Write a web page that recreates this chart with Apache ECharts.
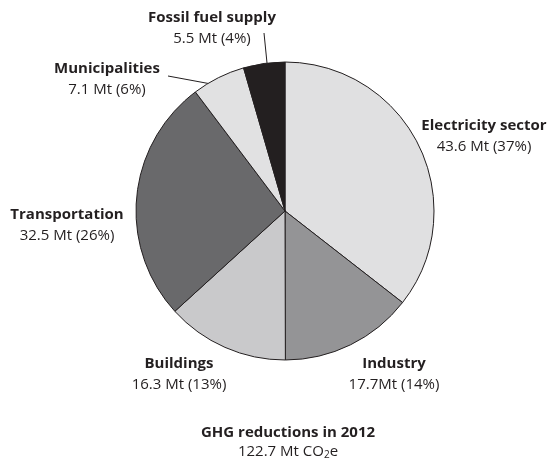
<!DOCTYPE html>
<html>
<head>
<meta charset="utf-8">
<script src="https://cdn.jsdelivr.net/npm/echarts@6/dist/echarts.min.js"></script>
<style>
  html, body { margin: 0; padding: 0; background: #ffffff; }
  #chart { width: 547px; height: 466px; }
</style>
</head>
<body>
<div id="chart"></div>
<script>
// GHG reductions by sector, 2012 (Mt CO2e), clockwise from 12 o'clock
const sectors = ['Electricity sector', 'Industry', 'Buildings', 'Transportation', 'Municipalities', 'Fossil fuel supply'];
const reductions = [43.6, 17.7, 16.3, 32.5, 7.1, 5.5];
const shares = ['37%', '14%', '13%', '26%', '6%', '4%'];
const valueTexts = ['43.6 Mt', '17.7Mt', '16.3 Mt', '32.5 Mt', '7.1 Mt', '5.5 Mt'];
const sliceColors = ['#e0e0e1', '#949496', '#c9c9cb', '#69696b', '#e1e1e2', '#231f20'];

// label block centres and leader-line anchors
const labelSpots = [
  { x: 484, y: 136 },
  { x: 394, y: 374 },
  { x: 179, y: 374 },
  { x: 67, y: 225 },
  { x: 107, y: 79 },
  { x: 212, y: 28 }
];
const leaderLines = {
  4: [[168, 76], [168, 76], [222, 86]],
  5: [[264, 33], [264, 33], [267, 63]]
};

const FONT = '"Open Sans", "Noto Sans", sans-serif';

const chart = echarts.init(document.getElementById('chart'), null, { renderer: 'canvas' });

chart.setOption({
  backgroundColor: '#ffffff',
  animation: false,
  title: {
    text: 'GHG reductions in 2012',
    subtext: '122.7 Mt CO{sub|2}e',
    left: 283,
    top: 420,
    textAlign: 'center',
    itemGap: 3,
    textStyle: { fontFamily: FONT, fontSize: 15, fontWeight: 'bold', color: '#231f20' },
    subtextStyle: {
      fontFamily: FONT, fontSize: 15, color: '#231f20',
      rich: {
        sub: { fontFamily: FONT, fontSize: 10, color: '#231f20', verticalAlign: 'bottom', padding: [7, 0, 0, 0] }
      }
    }
  },
  series: [{
    type: 'pie',
    center: [285, 211],
    radius: [0, 149],
    startAngle: 90,
    clockwise: true,
    avoidLabelOverlap: false,
    itemStyle: { borderColor: '#231f20', borderWidth: 1 },
    emphasis: { disabled: true },
    label: {
      show: true,
      position: 'outside',
      align: 'center',
      formatter: function (p) {
        return '{b|' + p.name + '}\n{v|' + valueTexts[p.dataIndex] + ' (' + shares[p.dataIndex] + ')}';
      },
      rich: {
        b: { fontFamily: FONT, fontSize: 15, fontWeight: 'bold', color: '#231f20', lineHeight: 21, align: 'center' },
        v: { fontFamily: FONT, fontSize: 15, color: '#231f20', lineHeight: 21, align: 'center' }
      }
    },
    labelLine: { show: false, lineStyle: { color: '#231f20', width: 1 } },
    labelLayout: function (params) {
      const spot = labelSpots[params.dataIndex];
      const out = {
        x: spot.x,
        y: spot.y,
        align: 'center',
        verticalAlign: 'middle',
        hideOverlap: false
      };
      if (leaderLines[params.dataIndex]) {
        out.labelLinePoints = leaderLines[params.dataIndex];
      }
      return out;
    },
    data: sectors.map(function (name, i) {
      const item = {
        name: name,
        value: reductions[i],
        itemStyle: { color: sliceColors[i] }
      };
      if (leaderLines[i]) {
        item.labelLine = { show: true, length: 5, length2: 5 };
      }
      return item;
    })
  }]
});
</script>
</body>
</html>
